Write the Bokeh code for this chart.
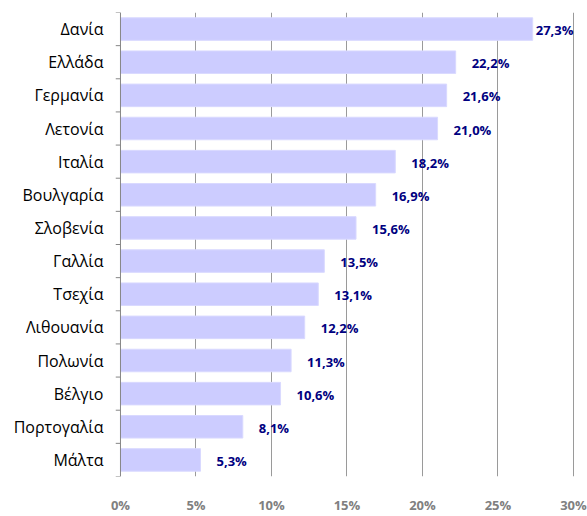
from bokeh.plotting import figure
from bokeh.models import ColumnDataSource, FixedTicker, PrintfTickFormatter, Range1d, Span
from bokeh.core.properties import value
from bokeh.embed import file_html
from bokeh.resources import INLINE

countries = ["Δανία", "Ελλάδα", "Γερμανία", "Λετονία", "Ιταλία", "Βουλγαρία", "Σλοβενία",
             "Γαλλία", "Τσεχία", "Λιθουανία", "Πολωνία", "Βέλγιο", "Πορτογαλία", "Μάλτα"]
values = [27.3, 22.2, 21.6, 21.0, 18.2, 16.9, 15.6, 13.5, 13.1, 12.2, 11.3, 10.6, 8.1, 5.3]
x_ticks = [0, 5, 10, 15, 20, 25, 30]

n = len(countries)
ypos = [n - 1 - i for i in range(n)]
vmax = max(values)
labels = [f"{v:.1f}".replace(".", ",") + "%" for v in values]
offsets = [3 if v == vmax else 16 for v in values]

src = ColumnDataSource(dict(y=ypos, v=values, lab=labels, off=offsets))

tick_len = 0.33  # axis tick length in x units (about 5 px)
x_start = -tick_len

p = figure(width=587, height=516, output_backend="svg", toolbar_location=None,
           x_range=Range1d(x_start, 30.4), y_range=Range1d(-0.5, n - 0.5),
           min_border_left=115, min_border_right=8, min_border_top=12, min_border_bottom=28)
p.outline_line_color = None
p.background_fill_color = "white"
p.border_fill_color = "white"

p.hbar(y="y", right="v", left=0, height=0.68, source=src,
       fill_color="#ccccff", line_color="#d9d9ff", line_width=1)

p.text(x="v", y="y", text="lab", source=src, x_offset="off", y_offset=1,
       text_align="left", text_baseline="middle",
       text_font=value("Open Sans"), text_font_style="bold", text_font_size="13px",
       text_color="#000080")

# x axis
p.xaxis.ticker = FixedTicker(ticks=x_ticks)
p.xaxis.formatter = PrintfTickFormatter(format="%d%%")
p.xaxis.axis_line_color = None
p.xaxis.major_tick_line_color = None
p.xaxis.minor_tick_line_color = None
p.xaxis.major_label_standoff = 13
p.xaxis.major_label_text_font = "Open Sans"
p.xaxis.major_label_text_font_style = "bold"
p.xaxis.major_label_text_font_size = "13px"
p.xaxis.major_label_text_color = "#808080"

p.xgrid.ticker = FixedTicker(ticks=x_ticks[1:])
p.xgrid.grid_line_color = "#9a9a9a"
p.xgrid.grid_line_width = 1
p.ygrid.grid_line_color = None

# y axis line and tick marks between categories
bounds = [i - 0.5 for i in range(n + 1)]
p.segment(x0=[x_start] * len(bounds), x1=[0] * len(bounds), y0=bounds, y1=bounds,
          line_color="#868686", line_width=1)
p.add_layout(Span(location=0, dimension="height", line_color="#868686", line_width=1))

p.yaxis.ticker = FixedTicker(ticks=ypos)
p.yaxis.major_label_overrides = {y: c for y, c in zip(ypos, countries)}
p.yaxis.major_tick_line_color = None
p.yaxis.major_tick_out = 0
p.yaxis.major_tick_in = 0
p.yaxis.minor_tick_line_color = None
p.yaxis.minor_tick_out = 0
p.yaxis.minor_tick_in = 0
p.yaxis.axis_line_color = None
p.yaxis.major_label_standoff = 12
p.yaxis.major_label_text_font = "Open Sans"
p.yaxis.major_label_text_font_size = "16px"
p.yaxis.major_label_text_color = "#000000"

open("out.html", "w").write(file_html(p, INLINE))
